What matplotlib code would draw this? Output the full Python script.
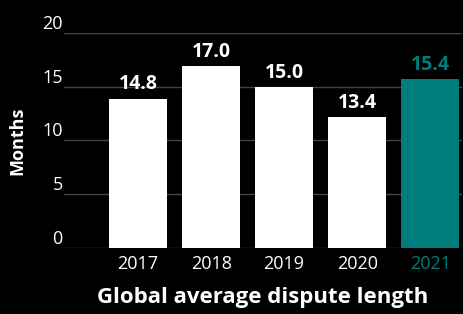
import matplotlib.pyplot as plt

years = ["2017", "2018", "2019", "2020", "2021"]
# bar heights as drawn in the reference, labels as printed on it
heights = [13.9, 16.9, 15.0, 12.2, 15.7]
labels = ["14.8", "17.0", "15.0", "13.4", "15.4"]

TEAL = "#007C7C"
plt.rcParams["font.family"] = ["Open Sans", "DejaVu Sans"]

fig = plt.figure(figsize=(4.64, 3.14), dpi=100, facecolor="black")
ax = fig.add_axes([0.138, 0.2102, 0.858, 0.6847], facecolor="black")

colors = ["white"] * (len(years) - 1) + [TEAL]
x = list(range(len(years)))
bars = ax.bar(x, heights, width=0.795, color=colors, zorder=3)

for b, lab, c in zip(bars, labels, colors):
    ax.annotate(lab, (b.get_x() + b.get_width() / 2, b.get_height()),
                xytext=(0, 3), textcoords="offset points",
                ha="center", va="bottom", color=c,
                fontsize=14, fontweight="bold")

ax.set_xlim(-1.014, 4.438)
ax.set_ylim(0, 20)
ax.set_yticks([0, 5, 10, 15, 20])
ax.yaxis.grid(True, color="#444444", linewidth=1)
ax.set_axisbelow(True)
for s in ax.spines.values():
    s.set_visible(False)

ax.tick_params(axis="y", length=0, pad=1, labelsize=13, labelcolor="white")
for t in ax.get_yticklabels():
    t.set_va("bottom")

ax.set_xticks(x)
ax.set_xticklabels(years)
ax.tick_params(axis="x", length=0, pad=5, labelsize=13)
for t, c in zip(ax.get_xticklabels(), colors):
    t.set_color(c)

ax.set_ylabel("Months", color="white", fontsize=13, fontweight="bold", labelpad=11)
ax.set_xlabel("Global average dispute length", color="white",
              fontsize=16, fontweight="bold", labelpad=10)

fig.savefig("out.png", facecolor="black")
